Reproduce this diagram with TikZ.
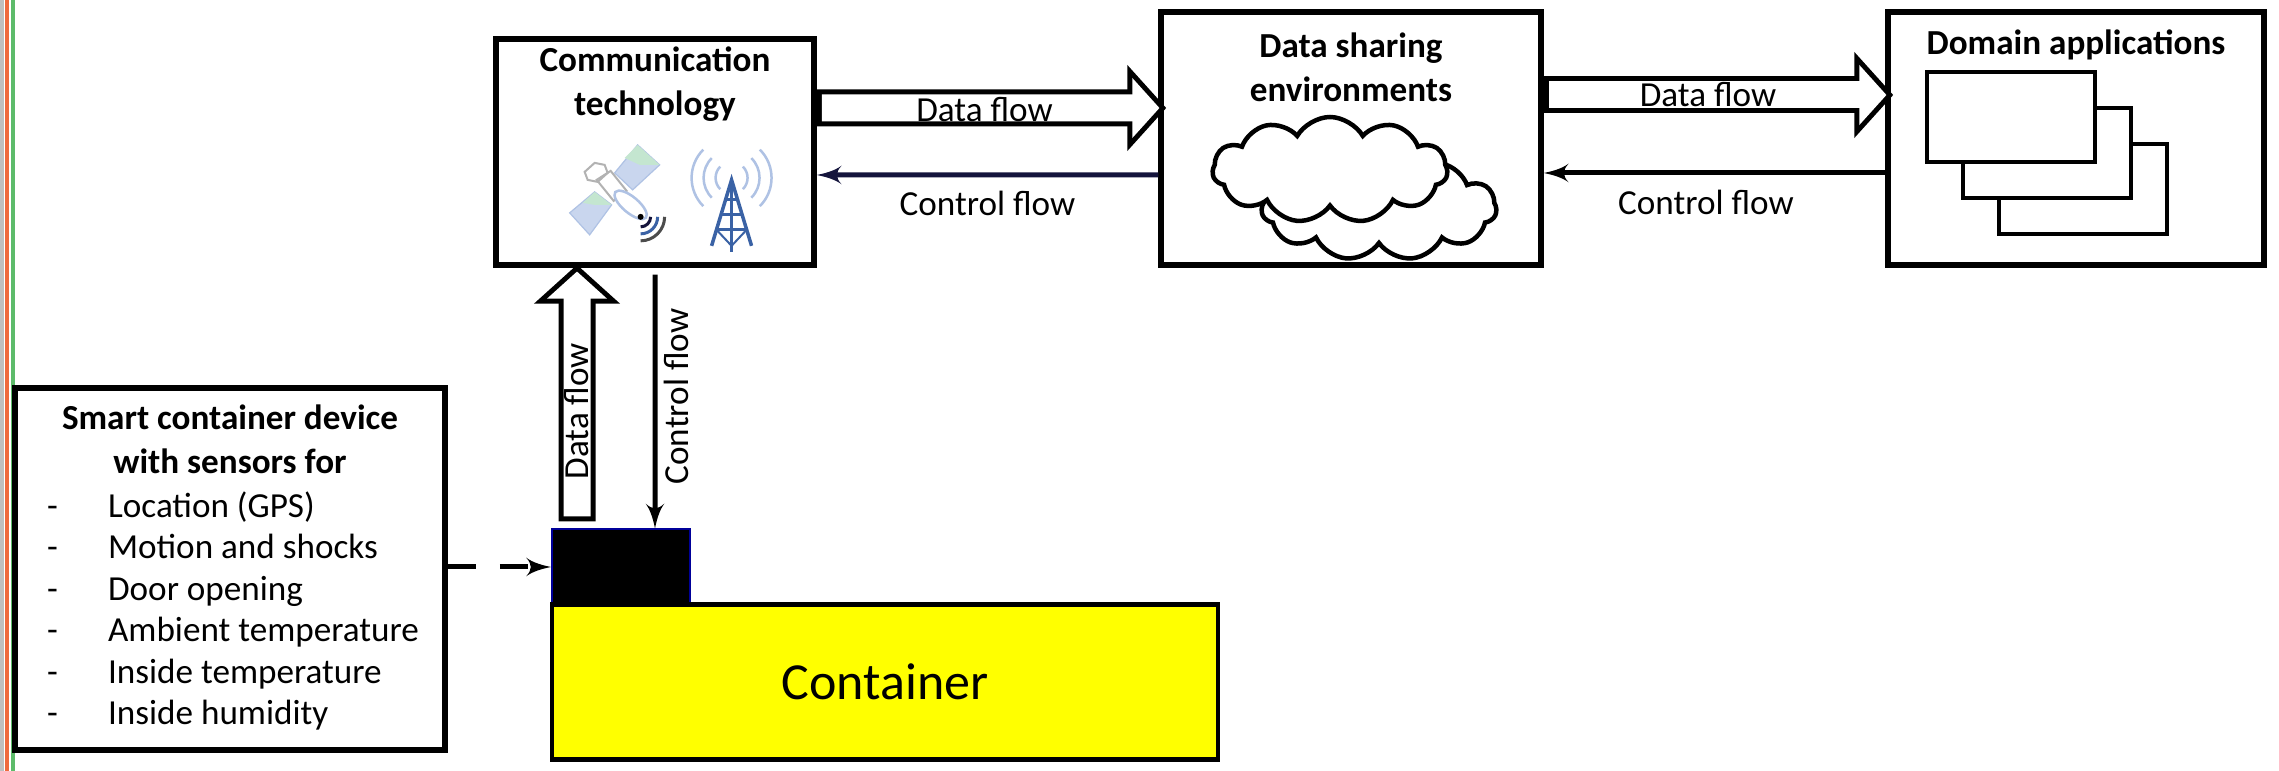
\documentclass[tikz,border=0pt]{standalone}
\usepackage{fontspec}
\setmainfont{Carlito}
\usepackage{tikz}
\usetikzlibrary{shapes,shapes.symbols,arrows,arrows.meta,positioning,calc}
\definecolor{panelfill}{HTML}{C9D6EE}
\definecolor{panelline}{HTML}{AFC2E4}
\definecolor{panelgreen}{HTML}{C4E6D0}
\definecolor{towerblue}{HTML}{3A62A5}
\definecolor{navyline}{HTML}{14143C}
\definecolor{boxyellow}{RGB}{255,255,0}
\definecolor{stripeorange}{HTML}{EF6A3E}
\definecolor{stripegreen}{HTML}{5DBB6A}
\tikzset{
block/.style = {draw, fill=white, rectangle, line width=0.055cm, inner sep=0pt},
title/.style = {align=center, font=\fontsize{10}{12.6}\selectfont\bfseries},
flowtext/.style = {font=\fontsize{10}{12}\selectfont, inner sep=2pt},
appbox/.style = {draw, fill=white, rectangle, line width=0.045cm, minimum width=1.68cm, minimum height=0.9cm, inner sep=0pt},
puff/.style = {draw, fill=white, cloud, cloud puffs=11, cloud puff arc=120, aspect=2.2, line width=0.045cm, inner sep=0pt},
dataflow/.style = {draw=black, line width=0.37cm, -{Triangle[length=0.39cm,width=0.84cm]},
  postaction={draw=white, line width=0.27cm, shorten <=0.05cm, shorten >=0.068cm, -{Triangle[length=0.272cm,width=0.586cm]}}},
controlflow/.style = {line width=0.05cm, ->},
panel/.style = {draw=panelline, fill=panelfill, line width=0.012cm},
wave/.style = {draw=panelline, line width=0.025cm}
}
\begin{document}
\begin{tikzpicture}[node distance=2cm,>=latex']
  \useasboundingbox (0,0) rectangle (22.79,7.71);
  \fill [gray!50] (0,0) rectangle (0.04,7.71);
  \fill [stripeorange] (0.05,0) rectangle (0.09,7.71);
  \fill [stripegreen] (0.11,0) rectangle (0.145,7.71);

  \node [block, minimum width=3.18cm, minimum height=2.26cm] at (6.55,6.19)  (comm)      {};
  \node [block, minimum width=3.80cm, minimum height=2.53cm, right of=comm, node distance=6.96cm, yshift=0.135cm] (share) {};
  \node [block, minimum width=3.76cm, minimum height=2.53cm, right of=share, node distance=7.25cm] (domain) {};
  \node [block, minimum width=4.30cm, minimum height=3.62cm] at (2.30,2.02)  (smart)     {};
  \node [rectangle, draw=blue!60!black, fill=black, line width=0.02cm, inner sep=0pt, minimum width=1.38cm, minimum height=0.75cm, right of=smart, node distance=3.91cm, yshift=0.02cm] (device) {};
  \node [block, fill=boxyellow, line width=0.045cm, minimum width=6.66cm, minimum height=1.55cm, below of=device, node distance=1.15cm, xshift=2.64cm] (container) {\fontsize{14.8}{18}\selectfont Container};

  \node [title, above of=comm, node distance=0.68cm]    (commtitle)   {Communication\\technology};
  \node [title, above of=share, node distance=0.715cm]  (sharetitle)  {Data sharing\\environments};
  \node [title, above of=domain, node distance=0.935cm] (domaintitle) {Domain applications};
  \node [title, above of=smart, node distance=1.30cm]   (smarttitle)  {Smart container device\\with sensors for};
  \node [below of=smart, node distance=0.42cm, xshift=0.03cm, align=left, font=\fontsize{10}{11.8}\selectfont] (smartlist)
    {\makebox[0.61cm][l]{-}Location (GPS)\\
     \makebox[0.61cm][l]{-}Motion and shocks\\
     \makebox[0.61cm][l]{-}Door opening\\
     \makebox[0.61cm][l]{-}Ambient temperature\\
     \makebox[0.61cm][l]{-}Inside temperature\\
     \makebox[0.61cm][l]{-}Inside humidity};

  \node [puff, minimum width=2.35cm, minimum height=1.05cm] at (13.79,5.63) (cloudback)  {};
  \node [puff, minimum width=2.35cm, minimum height=1.06cm] at (13.30,6.01) (cloudfront) {};

  \node [appbox] at (20.83,5.82)            (appc) {};
  \node [appbox, above left of=appc, node distance=0.51cm] (appb) {};
  \node [appbox, above left of=appb, node distance=0.51cm] (appa) {};

  \draw [dataflow] ([yshift=0.44cm]comm.east) -- node[flowtext, pos=0.48, yshift=-0.02cm] {Data flow} ([xshift=0.08cm,yshift=0.305cm]share.west);
  \draw [dataflow] ([yshift=0.435cm]share.east) -- node[flowtext, pos=0.47] {Data flow} ([xshift=0.08cm,yshift=0.435cm]domain.west);
  \draw [controlflow, navyline] ([yshift=-0.365cm]share.west) -- node[flowtext, below, black, yshift=-0.07cm] {Control flow} ([yshift=-0.23cm]comm.east);
  \draw [controlflow] ([yshift=-0.345cm]domain.west) -- node[flowtext, below, pos=0.525, yshift=-0.08cm] {Control flow} ([yshift=-0.345cm]share.east);
  \draw [dataflow] ([xshift=-0.44cm,yshift=0.07cm]device.north) -- node[flowtext, pos=0.43, rotate=90] {Data flow} ([xshift=-0.78cm,yshift=0.03cm]comm.south);
  \draw [controlflow] ([yshift=-0.07cm]comm.south) -- node[flowtext, pos=0.48, rotate=90, anchor=north] {Control flow} ([xshift=0.34cm]device.north);
  \draw [controlflow, dash pattern=on 0.28cm off 0.24cm] (smart.east |- device.west) -- (device.west);

  \begin{scope}[shift={(0,7.71)}, x=0.01cm, y=-0.01cm]
    \draw [panel] (638,145) -- (660,165) -- (633,190) -- (615,173) -- cycle;
    \fill [panelgreen] (638,145) -- (660,165) -- (640,165) -- (625,158) -- cycle;
    \draw [panel] (570,213) -- (590,235) -- (612,205) -- (595,192) -- cycle;
    \fill [panelgreen] (595,192) -- (612,205) -- (595,205) -- (583,203) -- cycle;
    \draw [draw=gray!60, fill=white, line width=0.02cm] (597,180) -- (611,171) -- (627,191) -- (614,201) -- cycle;
    \draw [draw=gray!60, line width=0.02cm] (585,172) -- (595,163) -- (605,165) -- (608,173) -- (598,182) -- (588,180) -- cycle;
    \draw [panel, fill=white, line width=0.025cm, rotate around={-40:(631,205)}] (631,205) ellipse (20 and 8);
    \fill [black] (641,217) circle (3);
    \draw [navyline, line width=0.03cm] (651,217) arc (0:90:10);
    \draw [towerblue, line width=0.03cm] (658,217) arc (0:90:17);
    \draw [black!70, line width=0.03cm] (665,217) arc (0:90:24);
    \foreach \r in {16,28,40} {
      \draw [wave] (732,178) ++(135:\r) arc (135:225:\r);
      \draw [wave] (732,178) ++(45:\r) arc (45:-45:\r);
    }
    \draw [towerblue, line width=0.035cm] (712,246) -- (732,180) -- (752,246);
    \draw [towerblue, line width=0.035cm] (732,180) -- (732,252);
    \foreach \h/\w in {200/6,215/10,230/15} {
      \draw [towerblue, line width=0.03cm] (732-\w,\h) -- (732+\w,\h);
    }
    \draw [towerblue, line width=0.02cm] (717,230) -- (732,246) -- (747,230);
  \end{scope}
\end{tikzpicture}
\end{document}
